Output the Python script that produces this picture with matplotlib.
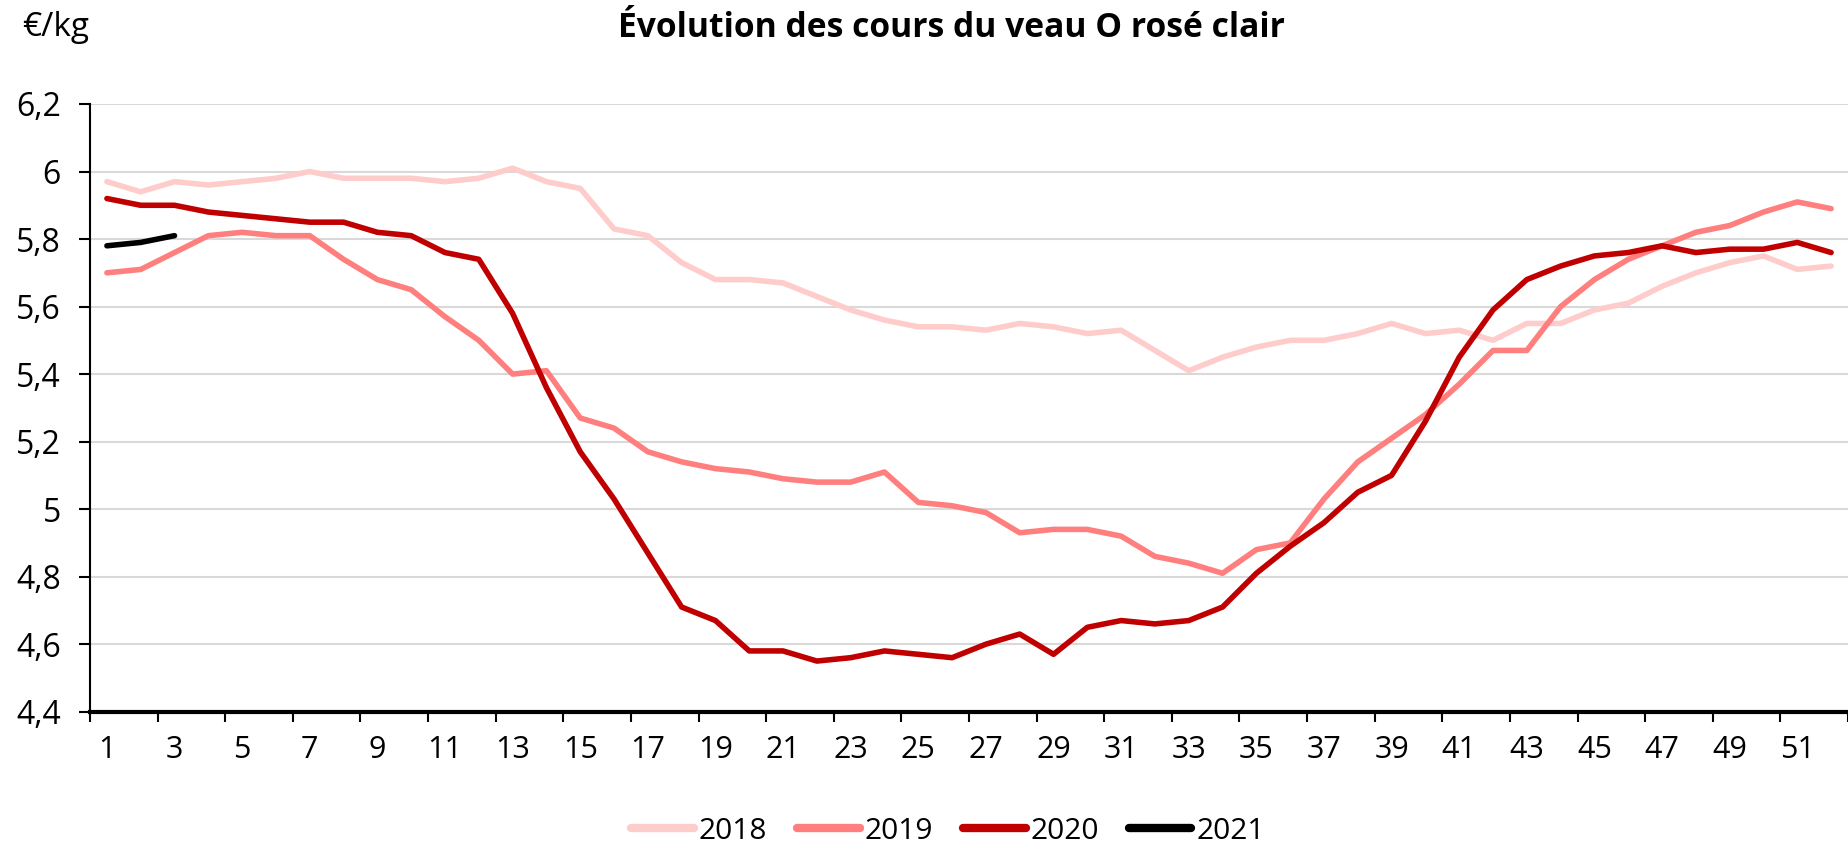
import matplotlib
matplotlib.use("Agg")
import matplotlib.pyplot as plt
from matplotlib.ticker import FixedLocator, FuncFormatter

weeks = list(range(1, 53))

y2018 = [5.97, 5.94, 5.97, 5.96, 5.97, 5.98, 6.00, 5.98, 5.98, 5.98,
         5.97, 5.98, 6.01, 5.97, 5.95, 5.83, 5.81, 5.73, 5.68, 5.68,
         5.67, 5.63, 5.59, 5.56, 5.54, 5.54, 5.53, 5.55, 5.54, 5.52,
         5.53, 5.47, 5.41, 5.45, 5.48, 5.50, 5.50, 5.52, 5.55, 5.52,
         5.53, 5.50, 5.55, 5.55, 5.59, 5.61, 5.66, 5.70, 5.73, 5.75,
         5.71, 5.72]
y2019 = [5.70, 5.71, 5.76, 5.81, 5.82, 5.81, 5.81, 5.74, 5.68, 5.65,
         5.57, 5.50, 5.40, 5.41, 5.27, 5.24, 5.17, 5.14, 5.12, 5.11,
         5.09, 5.08, 5.08, 5.11, 5.02, 5.01, 4.99, 4.93, 4.94, 4.94,
         4.92, 4.86, 4.84, 4.81, 4.88, 4.90, 5.03, 5.14, 5.21, 5.28,
         5.37, 5.47, 5.47, 5.60, 5.68, 5.74, 5.78, 5.82, 5.84, 5.88,
         5.91, 5.89]
y2020 = [5.92, 5.90, 5.90, 5.88, 5.87, 5.86, 5.85, 5.85, 5.82, 5.81,
         5.76, 5.74, 5.58, 5.36, 5.17, 5.03, 4.87, 4.71, 4.67, 4.58,
         4.58, 4.55, 4.56, 4.58, 4.57, 4.56, 4.60, 4.63, 4.57, 4.65,
         4.67, 4.66, 4.67, 4.71, 4.81, 4.89, 4.96, 5.05, 5.10, 5.26,
         5.45, 5.59, 5.68, 5.72, 5.75, 5.76, 5.78, 5.76, 5.77, 5.77,
         5.79, 5.76]
y2021 = [5.78, 5.79, 5.81]

series = [("2018", y2018, "#FFCCCC"),
          ("2019", y2019, "#FF7F7F"),
          ("2020", y2020, "#C00000"),
          ("2021", y2021, "#000000")]

yticks = [4.4, 4.6, 4.8, 5.0, 5.2, 5.4, 5.6, 5.8, 6.0, 6.2]
xlabels = list(range(1, 53, 2))

plt.rcParams['font.family'] = ['Open Sans', 'DejaVu Sans']

fig = plt.figure(figsize=(18.49, 8.5), dpi=100)
ax = fig.add_axes([90/1849, (850-711.7)/850, (1848-90)/1849, (711.7-104)/850])

for name, vals, col in series:
    ax.plot(weeks[:len(vals)], vals, color=col, lw=4, label=name,
            solid_capstyle='round', solid_joinstyle='round')

ax.set_xlim(0.5, 52.5)
ax.set_ylim(4.4, 6.2)
ax.yaxis.set_major_locator(FixedLocator(yticks))
ax.yaxis.set_major_formatter(FuncFormatter(lambda v, p: f"{v:g}".replace('.', ',')))
ax.grid(axis='y', color='#D9D9D9', lw=1.5)
ax.set_axisbelow(True)

# x: tick marks at category boundaries every 2 weeks, labels at odd weeks
ax.xaxis.set_major_locator(FixedLocator([w + 0.5 for w in range(0, 53, 2)]))
ax.xaxis.set_major_formatter(FuncFormatter(lambda v, p: ""))
ax.xaxis.set_minor_locator(FixedLocator(xlabels))
ax.xaxis.set_minor_formatter(FuncFormatter(lambda v, p: f"{int(round(v))}"))
ax.tick_params(axis='x', which='major', length=7, width=1.5, color='black', direction='out')
ax.tick_params(axis='x', which='minor', length=0, pad=17, labelsize=22)
ax.tick_params(axis='y', which='major', length=8, width=1.5, direction='out', pad=13, labelsize=23)

for s in ['top', 'right']:
    ax.spines[s].set_visible(False)
ax.spines['left'].set_linewidth(1.5)
ax.spines['bottom'].set_linewidth(3)
ax.spines['bottom'].set_zorder(5)

fig.text(951/1849, (850-28)/850, "Évolution des cours du veau O rosé clair",
         ha='center', va='center', fontsize=24.2, fontweight='bold')
fig.text(22/1849, (850-28)/850, "€/kg", ha='left', va='center', fontsize=24)

leg = fig.legend(loc='lower center', bbox_to_anchor=(948/1849, 0.0), ncol=4,
                 frameon=False, fontsize=21.5, handlelength=2.1, handletextpad=0.16,
                 columnspacing=1.0, borderpad=0.15, borderaxespad=0.0)
for l in leg.get_lines():
    l.set_linewidth(6)

fig.savefig("out.png", dpi=100)
